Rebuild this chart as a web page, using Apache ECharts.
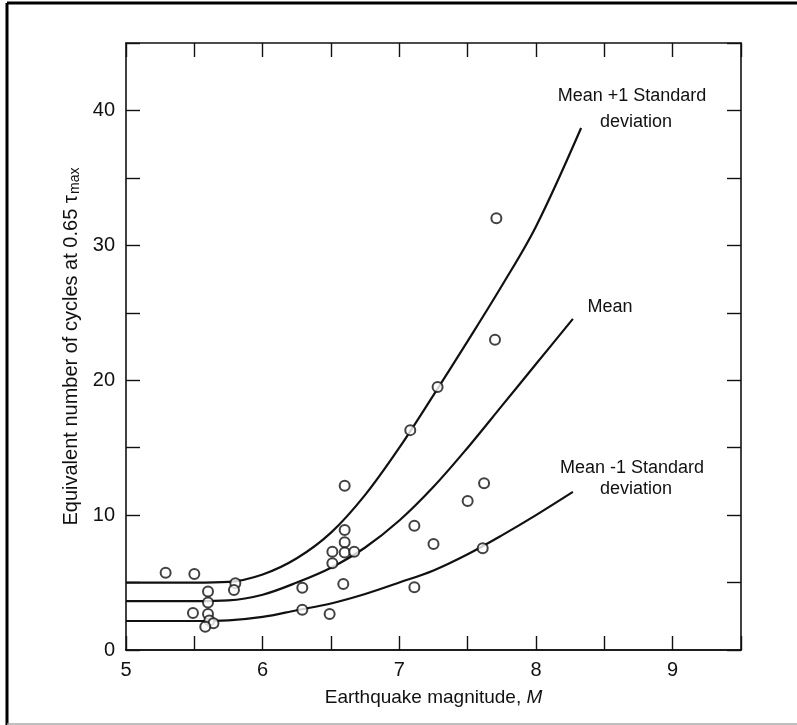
<!DOCTYPE html>
<html>
<head>
<meta charset="utf-8">
<script src="https://cdn.jsdelivr.net/npm/echarts@6/dist/echarts.min.js"></script>
<style>
  html, body { margin: 0; padding: 0; background: #fff; }
  #chart { width: 797px; height: 725px; }
</style>
</head>
<body>
<div id="chart"></div>
<script>
// Observed earthquakes: magnitude M and equivalent number of cycles
const obsMagnitude = [5.29, 5.50, 5.80, 5.79, 5.60, 5.60, 5.49, 5.60, 5.61, 5.64, 5.58,
                      6.29, 6.29, 6.49, 6.51, 6.51, 6.60, 6.60, 6.60, 6.60, 6.67, 6.59,
                      7.08, 7.11, 7.28, 7.70, 7.62, 7.50, 7.25, 7.61, 7.11, 7.71];
const obsCycles    = [5.73, 5.64, 4.95, 4.45, 4.33, 3.53, 2.74, 2.67, 2.18, 1.98, 1.73,
                      4.62, 2.99, 2.67, 7.29, 6.43, 12.17, 8.90, 7.99, 7.22, 7.29, 4.90,
                      16.30, 9.22, 19.50, 23.00, 12.37, 11.05, 7.86, 7.54, 4.65, 32.00];

// Mean + 1 standard deviation curve
const upperM = [5.0, 5.5, 5.75, 6.0, 6.25, 6.5, 6.75, 7.0, 7.25, 7.5, 7.75, 8.0, 8.33];
const upperN = [5.0, 5.0, 5.05, 5.6, 6.8, 8.7, 11.5, 15.0, 18.9, 22.9, 27.0, 31.4, 38.7];

// Mean curve
const meanM = [5.0, 5.5, 5.75, 6.0, 6.25, 6.5, 6.75, 7.0, 7.25, 7.5, 7.75, 8.0, 8.27];
const meanN = [3.63, 3.63, 3.68, 4.1, 5.0, 6.1, 7.6, 9.6, 12.1, 15.0, 18.1, 21.2, 24.55];

// Mean - 1 standard deviation curve
const lowerM = [5.0, 5.5, 5.75, 6.0, 6.25, 6.5, 6.75, 7.0, 7.25, 7.5, 7.75, 8.0, 8.27];
const lowerN = [2.15, 2.15, 2.2, 2.45, 2.95, 3.45, 4.15, 5.0, 5.9, 7.1, 8.5, 10.0, 11.72];

// Axis ticks
const xTickLabels = [5, 6, 7, 8, 9];
const yTickLabels = [0, 10, 20, 30, 40];

const zip = (a, b) => a.map((v, i) => [v, b[i]]);

const FONT = '"Liberation Sans", Arial, Helvetica, sans-serif';
const ink = '#111';

const chart = echarts.init(document.getElementById('chart'), null, { renderer: 'canvas' });

const curveStyle = { color: ink, width: 2.2 };
function curve(name, m, n) {
  return {
    name, type: 'line', data: zip(m, n), smooth: 0.35,
    showSymbol: false, symbol: 'none', lineStyle: curveStyle, z: 2, silent: true
  };
}

const axisLine = { show: true, lineStyle: { color: ink, width: 1.6 } };
const tick = { show: true, inside: true, length: 14, lineStyle: { color: ink, width: 1.4 } };
const noTick = { show: false };

const xRange = { type: 'value', min: 5, max: 9.5, interval: 0.5, splitLine: { show: false } };
const yRange = { type: 'value', min: 0, max: 45, interval: 5, splitLine: { show: false } };

chart.setOption({
  animation: false,
  backgroundColor: '#fff',
  grid: { left: 126, top: 43, right: 56, bottom: 75, containLabel: false },
  xAxis: [
    Object.assign({}, xRange, {
      position: 'bottom',
      axisLine, axisTick: noTick,
      axisLabel: {
        margin: 10, color: ink, fontFamily: FONT, fontSize: 20,
        formatter: v => (xTickLabels.indexOf(v) >= 0 ? String(v) : ''),
        showMaxLabel: false
      },
      name: '{n|Earthquake magnitude, }{i|M}',
      nameLocation: 'middle', nameGap: 38,
      nameTextStyle: {
        rich: {
          n: { fontFamily: FONT, fontSize: 19, color: ink },
          i: { fontFamily: FONT, fontSize: 19, color: ink, fontStyle: 'italic' }
        }
      }
    }),
    Object.assign({}, xRange, {
      position: 'bottom', axisLine, axisTick: tick, axisLabel: { show: false }
    }),
    Object.assign({}, xRange, {
      position: 'top', axisLine, axisTick: tick, axisLabel: { show: false }
    })
  ],
  yAxis: [
    Object.assign({}, yRange, {
      position: 'left',
      axisLine, axisTick: tick,
      axisLabel: {
        margin: 11, color: ink, fontFamily: FONT, fontSize: 20,
        formatter: v => (yTickLabels.indexOf(v) >= 0 ? String(v) : '')
      },
      name: '{n|Equivalent number of cycles at 0.65 }{t|τ}{s|max}',
      nameLocation: 'middle', nameGap: 37, nameRotate: 90,
      nameTextStyle: {
        rich: {
          n: { fontFamily: FONT, fontSize: 20, color: ink, lineHeight: 26, verticalAlign: 'bottom' },
          t: { fontFamily: FONT, fontSize: 21, color: ink, lineHeight: 26, verticalAlign: 'bottom' },
          s: { fontFamily: FONT, fontSize: 14, color: ink, lineHeight: 14, verticalAlign: 'bottom', padding: [11, 0, 0, 1] }
        }
      }
    }),
    Object.assign({}, yRange, {
      position: 'right', axisLine, axisTick: tick, axisLabel: { show: false }
    })
  ],
  series: [
    curve('Mean +1 Standard deviation', upperM, upperN),
    curve('Mean', meanM, meanN),
    curve('Mean -1 Standard deviation', lowerM, lowerN),
    {
      name: 'Observed', type: 'scatter', data: zip(obsMagnitude, obsCycles),
      symbol: 'circle', symbolSize: 10,
      itemStyle: { color: '#fff', borderColor: ink, borderWidth: 2 },
      z: 3, silent: true
    }
  ],
  graphic: [
    // figure frame
    { type: 'line', shape: { x1: 7, y1: 3, x2: 797, y2: 3 }, style: { stroke: '#000', lineWidth: 3 } },
    { type: 'line', shape: { x1: 7, y1: 3, x2: 7, y2: 725 }, style: { stroke: '#000', lineWidth: 3 } },
    { type: 'line', shape: { x1: 7, y1: 724, x2: 797, y2: 724 }, style: { stroke: '#aaa', lineWidth: 1.5 } },
    // curve annotations
    { type: 'text', x: 632, y: 96, style: { text: 'Mean +1 Standard', font: '18px ' + FONT, fill: ink, align: 'center', verticalAlign: 'middle' } },
    { type: 'text', x: 636, y: 122, style: { text: 'deviation', font: '18px ' + FONT, fill: ink, align: 'center', verticalAlign: 'middle' } },
    { type: 'text', x: 610, y: 307, style: { text: 'Mean', font: '18px ' + FONT, fill: ink, align: 'center', verticalAlign: 'middle' } },
    { type: 'text', x: 632, y: 468, style: { text: 'Mean -1 Standard', font: '18px ' + FONT, fill: ink, align: 'center', verticalAlign: 'middle' } },
    { type: 'text', x: 636, y: 489, style: { text: 'deviation', font: '18px ' + FONT, fill: ink, align: 'center', verticalAlign: 'middle' } }
  ]
});
</script>
</body>
</html>
